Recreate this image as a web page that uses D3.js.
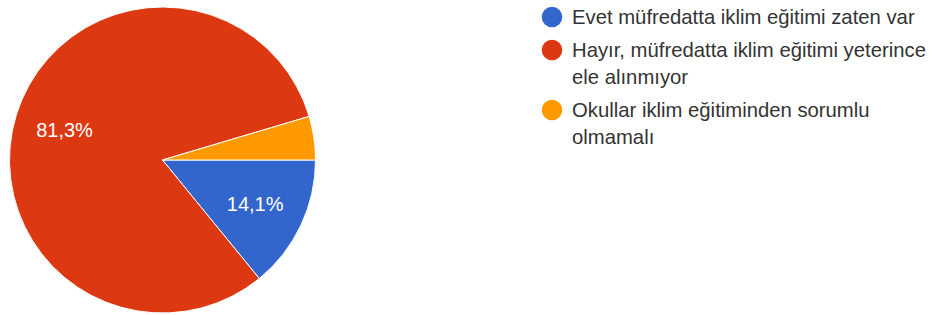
<!DOCTYPE html>
<html>
<head>
<meta charset="utf-8">
<script src="https://cdn.jsdelivr.net/npm/d3@7"></script>
<style>
  body { margin: 0; background: #fff; }
  svg { display: block; font-family: "Liberation Sans", Arial, sans-serif; }
</style>
</head>
<body>
<div id="chart"></div>
<script>
// answers and their share (%)
const categories = [
  "Evet müfredatta iklim eğitimi zaten var",
  "Hayır, müfredatta iklim eğitimi yeterince ele alınmıyor",
  "Okullar iklim eğitiminden sorumlu olmamalı"
];
const percents = [14.1, 81.3, 4.6];
const colors = ["#3366cc", "#dc3912", "#ff9900"];
// legend lines, wrapped like the original
const legendLines = [
  ["Evet müfredatta iklim eğitimi zaten var"],
  ["Hayır, müfredatta iklim eğitimi yeterince", "ele alınmıyor"],
  ["Okullar iklim eğitiminden sorumlu", "olmamalı"]
];

const width = 932;
const height = 315;
const cx = 162.5, cy = 160, radius = 153;

const svg = d3.select("#chart")
    .append("svg")
    .attr("width", width)
    .attr("height", height);

const data = categories.map((c, i) => ({ name: c, value: percents[i], color: colors[i], lines: legendLines[i] }));

const pie = d3.pie()
    .value(d => d.value)
    .sort(null)
    .startAngle(Math.PI / 2)
    .endAngle(Math.PI / 2 + 2 * Math.PI);

const arc = d3.arc().innerRadius(0).outerRadius(radius);
const labelArc = d3.arc().innerRadius(radius * 0.67).outerRadius(radius * 0.67);

const g = svg.append("g")
    .attr("transform", `translate(${cx},${cy})`);

const arcs = pie(data);

g.selectAll("path")
    .data(arcs)
    .enter()
    .append("path")
    .attr("d", arc)
    .attr("fill", d => d.data.color)
    .attr("stroke", "#fff")
    .attr("stroke-width", 1);

// percent labels (small slices have none)
g.selectAll("text.pct")
    .data(arcs.filter(d => d.data.value > 10))
    .enter()
    .append("text")
    .attr("class", "pct")
    .attr("transform", d => `translate(${labelArc.centroid(d)})`)
    .attr("text-anchor", "middle")
    .attr("dy", "0.36em")
    .attr("fill", "#fff")
    .style("font-size", "20px")
    .text(d => d.data.value.toFixed(1).replace(".", ",") + "%");

// legend
const legendX = 552;
const itemY = [17, 50, 110];
const legend = svg.append("g");

const items = legend.selectAll("g")
    .data(data)
    .enter()
    .append("g")
    .attr("transform", (d, i) => `translate(${legendX},${itemY[i]})`);

items.append("circle")
    .attr("r", 10.3)
    .attr("fill", d => d.color);

items.append("text")
    .attr("x", 20)
    .attr("y", 7)
    .attr("fill", "#333")
    .style("font-size", "20.3px")
    .selectAll("tspan")
    .data(d => d.lines)
    .enter()
    .append("tspan")
    .attr("x", 20)
    .attr("dy", (d, i) => i === 0 ? 0 : 26.5)
    .text(d => d);
</script>
</body>
</html>
